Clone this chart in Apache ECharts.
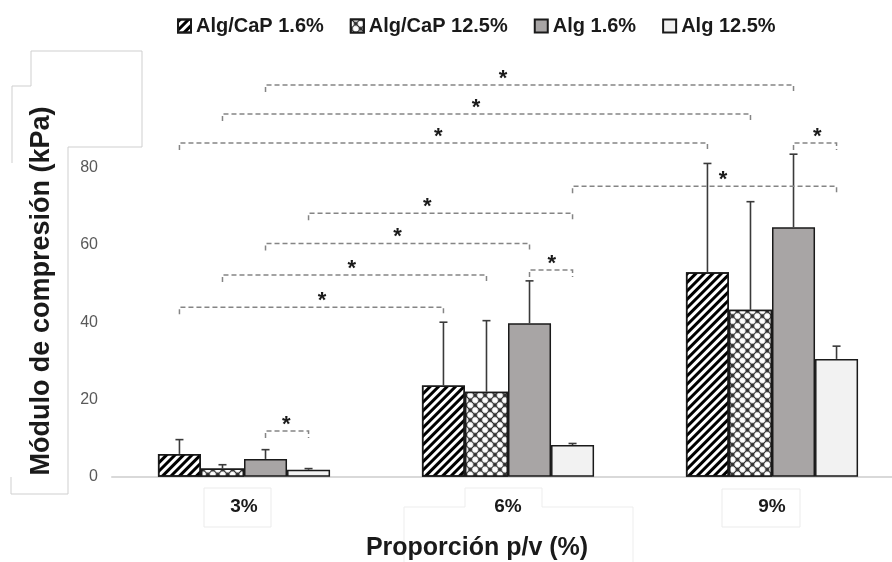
<!DOCTYPE html>
<html>
<head>
<meta charset="utf-8">
<script src="https://cdn.jsdelivr.net/npm/echarts@6/dist/echarts.min.js"></script>
<style>
  html, body { margin: 0; padding: 0; background: #ffffff; }
  #chart { width: 892px; height: 562px; }
</style>
</head>
<body>
<div id="chart"></div>
<script>
// ---- data ----
const categories = ['3%', '6%', '9%'];
const seriesNames = ['Alg/CaP 1.6%', 'Alg/CaP 12.5%', 'Alg 1.6%', 'Alg 12.5%'];
const algCaP16 = [5.9, 23.6, 52.9];
const algCaP16Err = [3.7, 16.4, 28.2];
const algCaP125 = [2.1, 22.0, 43.2];
const algCaP125Err = [1.0, 18.4, 28.0];
const alg16 = [4.6, 39.7, 64.6];
const alg16Err = [2.4, 11.0, 18.9];
const alg125 = [1.8, 8.2, 30.5];
const alg125Err = [0.3, 0.4, 3.3];
const yTickMax = 80;
// significance brackets: [category A, series A, category B, series B, level (kPa), star position along bracket]
const brackets = [
  [0, 2, 2, 2, 101.4, 0.45],
  [0, 1, 2, 1, 93.9, 0.48],
  [0, 0, 2, 0, 86.4, 0.49],
  [2, 2, 2, 3, 86.4, 0.55],
  [1, 3, 2, 3, 75.2, 0.57],
  [0, 3, 1, 3, 68.2, 0.45],
  [0, 2, 1, 2, 60.4, 0.50],
  [0, 1, 1, 1, 52.2, 0.49],
  [1, 2, 1, 3, 53.5, 0.52],
  [0, 0, 1, 0, 43.9, 0.54],
  [0, 2, 0, 3, 11.8, 0.48]
];

const means = [algCaP16, algCaP125, alg16, alg125];
const errs = [algCaP16Err, algCaP125Err, alg16Err, alg125Err];
const BAR_RATIO = 0.163;
const FONT = '"Liberation Sans", Arial, sans-serif';

const styles = [
  { color: '#ffffff', borderColor: '#1a1a1a', borderWidth: 1.5,
    decal: { symbol: 'rect', symbolSize: 1, dashArrayX: [1, 0], dashArrayY: [3, 3], rotation: -Math.PI / 4, color: '#000000' } },
  { color: '#2e2e2e', borderColor: '#1a1a1a', borderWidth: 1.5,
    decal: { symbol: 'circle', symbolSize: 1, dashArrayX: [6, 0.6], dashArrayY: [6, 0.6], rotation: Math.PI / 4, color: '#ffffff' } },
  { color: '#a8a5a5', borderColor: '#1a1a1a', borderWidth: 1.5 },
  { color: '#f2f2f2', borderColor: '#1a1a1a', borderWidth: 1.5 }
];

const barSeries = seriesNames.map((name, i) => ({
  name: name,
  type: 'bar',
  data: means[i],
  barWidth: (BAR_RATIO * 100) + '%',
  barGap: '0%',
  itemStyle: styles[i],
  z: 2
}));

const errData = [];
means.forEach((arr, s) => arr.forEach((v, c) => errData.push([c, s, v, errs[s][c]])));

const errSeries = {
  name: 'err',
  type: 'custom',
  data: errData,
  encode: { x: 0, y: 2 },
  z: 4,
  renderItem: function (params, api) {
    const c = api.value(0), s = api.value(1), m = api.value(2), e = api.value(3);
    const bw = api.size([1, 0])[0] * BAR_RATIO;
    const cx = api.coord([c, 0])[0] + (s - 1.5) * bw;
    const yT = api.coord([c, m + e])[1];
    const yB = api.coord([c, m])[1];
    const st = { stroke: '#3a3a3a', lineWidth: 1.6 };
    return { type: 'group', children: [
      { type: 'line', shape: { x1: cx, y1: yB, x2: cx, y2: yT }, style: st },
      { type: 'line', shape: { x1: cx - 4, y1: yT, x2: cx + 4, y2: yT }, style: st }
    ]};
  }
};

const bracketSeries = {
  name: 'sig',
  type: 'custom',
  data: brackets,
  encode: { x: 0, y: 4 },
  clip: false,
  z: 5,
  renderItem: function (params, api) {
    const bw = api.size([1, 0])[0] * BAR_RATIO;
    const lvl = api.value(4);
    const xA = api.coord([api.value(0), lvl])[0] + (api.value(1) - 1.5) * bw;
    const xB = api.coord([api.value(2), lvl])[0] + (api.value(3) - 1.5) * bw;
    const y = api.coord([api.value(0), lvl])[1];
    const sx = xA + (xB - xA) * api.value(5);
    return { type: 'group', children: [
      { type: 'polyline', shape: { points: [[xA, y + 7], [xA, y], [xB, y], [xB, y + 7]] },
        style: { stroke: '#858585', lineWidth: 1.5, lineDash: [5, 3], fill: null } },
      { type: 'text', x: sx, y: y + 5,
        style: { text: '*', font: 'bold 22px ' + FONT, fill: '#1a1a1a', align: 'center', verticalAlign: 'bottom' } }
    ]};
  }
};

const chart = echarts.init(document.getElementById('chart'), null, { renderer: 'canvas' });
chart.setOption({
  animation: false,
  backgroundColor: '#ffffff',
  legend: {
    data: seriesNames,
    icon: 'rect',
    top: 11,
    left: 172,
    itemWidth: 13,
    itemHeight: 13,
    itemGap: 26,
    selectedMode: false,
    textStyle: { fontFamily: FONT, fontWeight: 'bold', fontSize: 20, color: '#1a1a1a' }
  },
  grid: { left: 112, width: 792, top: 90.45, height: 386.25, outerBoundsMode: 'none', containLabel: false },
  xAxis: {
    type: 'category',
    data: categories,
    axisLine: { show: true, lineStyle: { color: '#d9d9d9', width: 2 } },
    axisTick: { show: false },
    axisLabel: { margin: 21, fontFamily: FONT, fontWeight: 'bold', fontSize: 19, color: '#1a1a1a' },
    name: 'Proporción p/v (%)',
    nameLocation: 'middle',
    nameGap: 59,
    nameTextStyle: { fontFamily: FONT, fontWeight: 'bold', fontSize: 25, color: '#1a1a1a', padding: [0, 62, 0, 0] }
  },
  yAxis: {
    type: 'value',
    min: 0,
    max: 100,
    interval: 20,
    splitLine: { show: false },
    axisLine: { show: false },
    axisTick: { show: false },
    axisLabel: { margin: 14, fontFamily: FONT, fontSize: 16, color: '#595959',
      formatter: v => (v > yTickMax ? '' : String(v)) },
    name: 'Módulo de compresión (kPa)',
    nameLocation: 'middle',
    nameGap: 57,
    nameTextStyle: { fontFamily: FONT, fontWeight: 'bold', fontSize: 27, color: '#1a1a1a', padding: [0, 15, 0, 0] }
  },
  graphic: [
    { type: 'polyline', silent: true, z: 0,
      shape: { points: [[12, 163], [12, 86], [31, 86], [31, 51], [142, 51], [142, 147], [68, 147], [68, 494], [11, 494], [11, 477]] },
      style: { stroke: '#cfcfcf', lineWidth: 1, fill: null } },
    { type: 'rect', silent: true, z: 0, shape: { x: 204, y: 488, width: 67, height: 39 },
      style: { stroke: '#ebebeb', lineWidth: 1, fill: null } },
    { type: 'polyline', silent: true, z: 0,
      shape: { points: [[404, 562], [404, 507], [465, 507], [465, 488], [542, 488], [542, 507], [633, 507], [633, 562]] },
      style: { stroke: '#ededed', lineWidth: 1, fill: null } },
    { type: 'rect', silent: true, z: 0, shape: { x: 722, y: 489, width: 78, height: 38 },
      style: { stroke: '#ebebeb', lineWidth: 1, fill: null } }
  ],
  series: barSeries.concat([errSeries, bracketSeries])
});
</script>
</body>
</html>
